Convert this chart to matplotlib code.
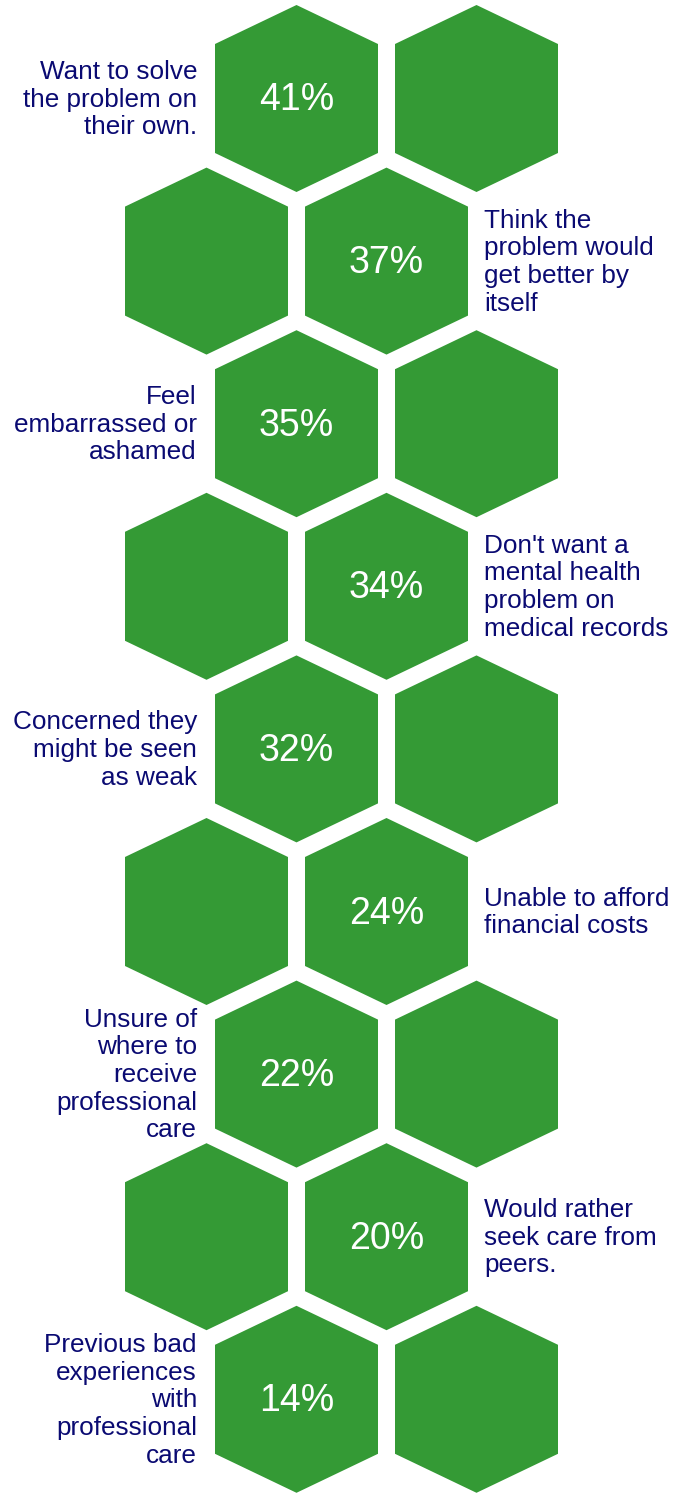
import matplotlib
matplotlib.use('Agg')
import matplotlib.pyplot as plt
from matplotlib.patches import Polygon

# data
reasons = [
    'Want to solve\nthe problem on\ntheir own.',
    'Think the\nproblem would\nget better by\nitself',
    'Feel\nembarrassed or\nashamed',
    "Don't want a\nmental health\nproblem on\nmedical records",
    'Concerned they\nmight be seen\nas weak',
    'Unable to afford\nfinancial costs',
    'Unsure of\nwhere to\nreceive\nprofessional\ncare',
    'Would rather\nseek care from\npeers.',
    'Previous bad\nexperiences\nwith\nprofessional\ncare',
]
percents = [41, 37, 35, 34, 32, 24, 22, 20, 14]

GREEN = '#349a35'
NAVY = '#0a0a72'
W, H = 674, 1493

plt.rcParams['font.family'] = ['Liberation Sans', 'DejaVu Sans']

fig = plt.figure(figsize=(W / 100, H / 100), dpi=100)
ax = fig.add_axes([0, 0, 1, 1])
ax.set_xlim(0, W)
ax.set_ylim(H, 0)
ax.axis('off')

hw, hh, side = 81.5, 93.5, 54.5


def hexagon(cx, cy):
    pts = [(cx, cy - hh), (cx + hw, cy - side), (cx + hw, cy + side),
           (cx, cy + hh), (cx - hw, cy + side), (cx - hw, cy - side)]
    ax.add_patch(Polygon(pts, closed=True, facecolor=GREEN, edgecolor='none'))


for i, (txt, p) in enumerate(zip(reasons, percents)):
    cy = 98.5 + i * 162.6
    if i % 2 == 0:
        main, other = 296.5, 476.5
        ax.text(197, cy + 1, txt, ha='right', va='center', color=NAVY,
                fontsize=18.8, linespacing=1.19)
    else:
        main, other = 386.5, 206.5
        ax.text(484, cy + 1, txt, ha='left', va='center', color=NAVY,
                fontsize=18.8, linespacing=1.19)
    hexagon(main, cy)
    hexagon(other, cy)
    ax.text(main, cy + 2, f'{p}%', ha='center', va='center', color='white',
            fontsize=27)

fig.savefig('out.png', dpi=100)
